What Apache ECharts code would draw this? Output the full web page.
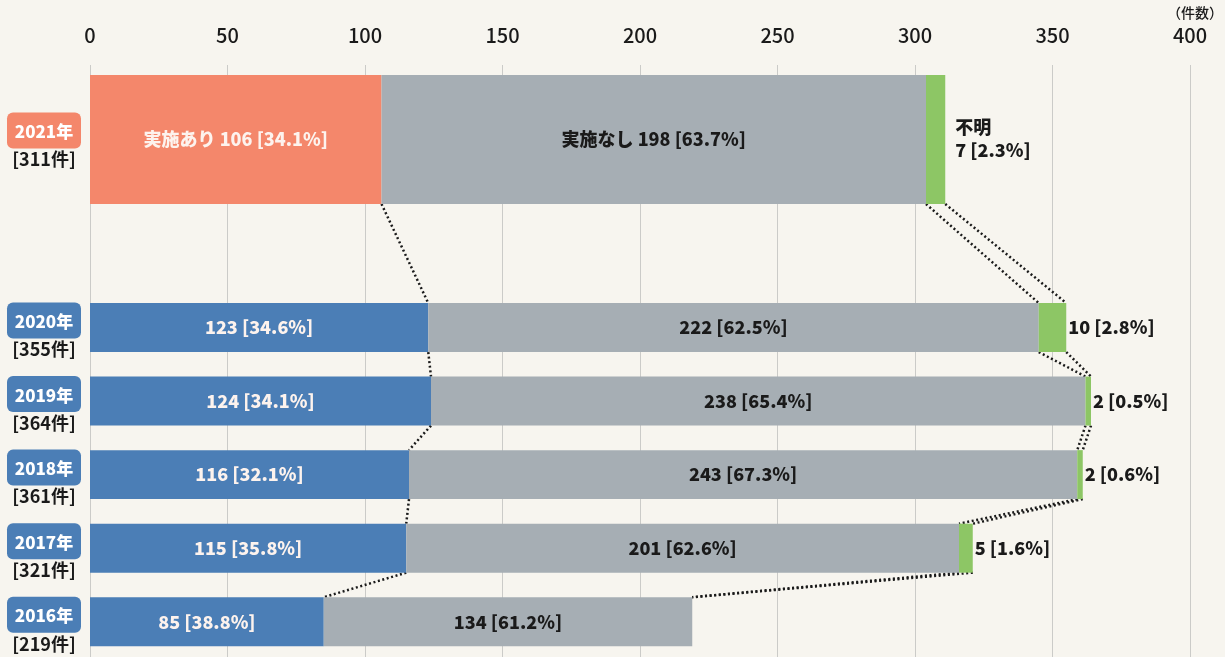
<!DOCTYPE html>
<html>
<head>
<meta charset="utf-8">
<script src="https://cdn.jsdelivr.net/npm/echarts@6/dist/echarts.min.js"></script>
<style>
html,body{margin:0;padding:0;background:#f7f5ef;}
#c{width:1225px;height:657px;}
</style>
</head>
<body>
<div id="c"></div>
<script>
// ---- data ----
const years = ['2021年','2020年','2019年','2018年','2017年','2016年'];
const implemented = [106,123,124,116,115,85];      // 実施あり
const notImplemented = [198,222,238,243,201,134];  // 実施なし
const unknown = [7,10,2,2,5,0];                    // 不明
const xTicks = [0,50,100,150,200,250,300,350,400];
const xUnit = '（件数）';

// ---- style / layout ----
const FONT = '"Noto Sans CJK JP", "Noto Sans", sans-serif';
const C_SALMON = '#f4876b';
const C_BLUE = '#4b7eb6';
const C_GRAY = '#a6aeb4';
const C_GREEN = '#8dc665';
const C_TEXT = '#1a1a1a';

function rowGeom(i){
  if (i === 0) return {c: 1.013, h: 0.877};
  return {c: 3.57 + (i - 1), h: 0.333};
}
function total(i){ return implemented[i] + notImplemented[i] + unknown[i]; }
function pct(v, i){ return (v / total(i) * 100).toFixed(1); }

const rowData = years.map((y, i) => [i, implemented[i], notImplemented[i], unknown[i]]);

function renderRow(params, api){
  const i = api.value(0);
  const a = api.value(1), b = api.value(2), c = api.value(3);
  const g = rowGeom(i);
  const top = api.coord([0, g.c - g.h])[1];
  const bot = api.coord([0, g.c + g.h])[1];
  const yc = api.coord([0, g.c])[1];
  const x0 = api.coord([0, g.c])[0];
  const x1 = api.coord([a, g.c])[0];
  const x2 = api.coord([a + b, g.c])[0];
  const x3 = api.coord([a + b + c, g.c])[0];
  const h = bot - top;
  const first = i === 0;
  const children = [
    {type:'rect', shape:{x:x0, y:top, width:x1-x0, height:h}, style:{fill: first ? C_SALMON : C_BLUE}},
    {type:'rect', shape:{x:x1, y:top, width:x2-x1, height:h}, style:{fill: C_GRAY}},
  ];
  if (c > 0) children.push({type:'rect', shape:{x:x2, y:top, width:x3-x2, height:h}, style:{fill: C_GREEN}});
  const lblStyle = {fontFamily: FONT, fontWeight: 900, fontSize: 18, align:'center', verticalAlign:'middle'};
  children.push({type:'text', style:Object.assign({}, lblStyle, {
    text: (first ? '実施あり ' : '') + a + ' [' + pct(a, i) + '%]', x:(x0+x1)/2, y:yc, fill:'#fdf3ee'})});
  children.push({type:'text', style:Object.assign({}, lblStyle, {
    text: (first ? '実施なし ' : '') + b + ' [' + pct(b, i) + '%]', x:(x1+x2)/2, y:yc, fill:C_TEXT})});
  if (c > 0) {
    if (first) {
      children.push({type:'text', style:Object.assign({}, lblStyle, {text:'不明', x:x3+10, y:yc-12, align:'left', fill:C_TEXT})});
      children.push({type:'text', style:Object.assign({}, lblStyle, {text:c + ' [' + pct(c, i) + '%]', x:x3+10, y:yc+11, align:'left', fill:C_TEXT})});
    } else {
      children.push({type:'text', style:Object.assign({}, lblStyle, {text:c + ' [' + pct(c, i) + '%]', x:x3+2, y:yc, align:'left', fill:C_TEXT})});
    }
  }
  // year badge + total
  const badgeC = yc - (first ? 9 : 7);
  const badgeColor = first ? C_SALMON : C_BLUE;
  children.push({type:'rect', shape:{x:x0-83, y:badgeC-18, width:74, height:36, r:6}, style:{fill:badgeColor}});
  children.push({type:'text', style:{text: years[i], x:x0-46, y:badgeC+1, fill:'#ffffff', fontFamily:FONT, fontWeight:900, fontSize:17, align:'center', verticalAlign:'middle'}});
  children.push({type:'text', style:{text: '[' + total(i) + '件]', x:x0-46, y:badgeC+29, fill:C_TEXT, fontFamily:FONT, fontWeight:'bold', fontSize:18, align:'center', verticalAlign:'middle'}});
  return {type:'group', children};
}

const connData = years.slice(0, years.length - 1).map((y, i) => [i, implemented[i], implemented[i]+notImplemented[i], total(i),
  implemented[i+1], implemented[i+1]+notImplemented[i+1], total(i+1)]);

function renderConn(params, api){
  const i = api.value(0);
  const g1 = rowGeom(i), g2 = rowGeom(i + 1);
  const yA = g1.c + g1.h, yB = g2.c - g2.h;
  const lines = [];
  const dashStyle = {stroke:'#1a1a1a', lineWidth:2.5, lineDash:[2,2.6], fill:null};
  for (let k = 0; k < 3; k++) {
    const v1 = api.value(1 + k), v2 = api.value(4 + k);
    if (k === 2 && v1 === api.value(2) && v2 === api.value(5)) continue;
    const p1 = api.coord([v1, yA]), p2 = api.coord([v2, yB]);
    lines.push({type:'line', shape:{x1:p1[0], y1:p1[1], x2:p2[0], y2:p2[1]}, style:dashStyle});
  }
  return {type:'group', children: lines};
}

const chart = echarts.init(document.getElementById('c'), null, {renderer:'canvas'});
chart.setOption({
  backgroundColor: '#f7f5ef',
  animation: false,
  grid: {left: 90, right: 35, top: 65, bottom: 0},
  xAxis: {
    type: 'value', position: 'top', min: xTicks[0], max: xTicks[xTicks.length-1], interval: xTicks[1]-xTicks[0],
    axisLine: {show:false}, axisTick: {show:false},
    splitLine: {show:true, lineStyle:{color:'#cbcbc8', width:1}},
    axisLabel: {fontSize: 20, color: '#1a1a1a', fontFamily: FONT, fontWeight: 500, margin: 20}
  },
  yAxis: {type:'value', min:0, max:8.05, inverse:true, show:false},
  graphic: [{type:'text', right: 2, top: 6, style:{text: xUnit, fontSize: 14, fontWeight: 500, fontFamily: FONT, fill:'#1a1a1a'}}],
  series: [
    {type:'custom', renderItem: renderConn, data: connData, encode:{x:[1,2,3], y:0}, silent:true, z:1},
    {type:'custom', renderItem: renderRow, data: rowData, encode:{x:[1,2,3], y:0}, silent:true, z:2}
  ]
});
</script>
</body>
</html>
